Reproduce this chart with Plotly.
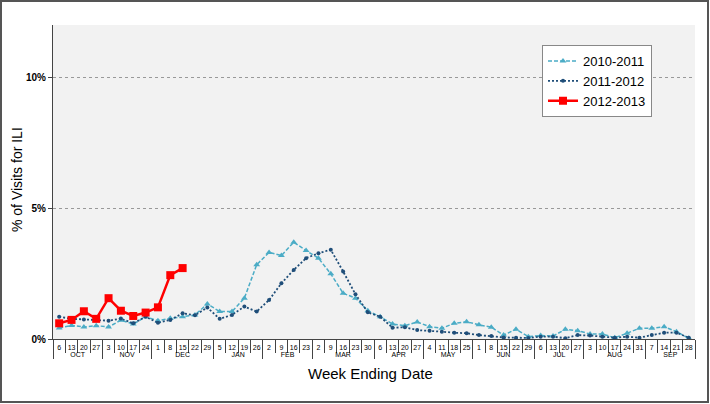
import plotly.graph_objects as go

# week ending dates, Oct through Sep
months = (["OCT"] * 4 + ["NOV"] * 4 + ["DEC"] * 5 + ["JAN"] * 4 + ["FEB"] * 4 + ["MAR"] * 5
          + ["APR"] * 4 + ["MAY"] * 4 + ["JUN"] * 5 + ["JUL"] * 4 + ["AUG"] * 5 + ["SEP"] * 4)
days = ["6", "13", "20", "27", "3", "10", "17", "24", "1", "8", "15", "22", "29",
        "5", "12", "19", "26", "2", "9", "16", "23", "2", "9", "16", "23", "30",
        "6", "13", "20", "27", "4", "11", "18", "25", "1", "8", "15", "22", "29",
        "6", "13", "20", "27", "3", "10", "17", "24", "31", "7", "14", "21", "28"]

ili_2010 = [0.42, 0.52, 0.46, 0.51, 0.46, 0.72, 0.57, 0.85, 0.70, 0.79, 0.85, 0.92, 1.34,
            1.05, 1.05, 1.56, 2.84, 3.31, 3.19, 3.70, 3.38, 3.09, 2.49, 1.75, 1.56, 1.08,
            0.85, 0.57, 0.51, 0.65, 0.47, 0.41, 0.60, 0.66, 0.54, 0.45, 0.15, 0.37, 0.09,
            0.13, 0.11, 0.37, 0.32, 0.19, 0.19, 0.05, 0.22, 0.41, 0.41, 0.47, 0.28, 0.03]
ili_2011 = [0.85, 0.77, 0.75, 0.72, 0.70, 0.78, 0.60, 0.85, 0.62, 0.73, 0.98, 0.91, 1.20,
            0.77, 0.92, 1.24, 1.05, 1.49, 2.13, 2.64, 3.09, 3.28, 3.41, 2.58, 1.71, 1.02,
            0.85, 0.43, 0.45, 0.34, 0.32, 0.28, 0.24, 0.22, 0.15, 0.11, 0.06, 0.05, 0.04,
            0.09, 0.09, 0.03, 0.15, 0.13, 0.09, 0.05, 0.09, 0.05, 0.15, 0.24, 0.24, 0.05]
ili_2012 = [0.60, 0.73, 1.06, 0.77, 1.56, 1.08, 0.88, 1.01, 1.21, 2.44, 2.71]

fig = go.Figure()
fig.add_trace(go.Scatter(x=[months, days], y=ili_2010, name="2010-2011", mode="lines+markers",
                         line=dict(color="#4bacc6", width=1.5, dash="4px,2px"),
                         marker=dict(symbol="triangle-up", size=6, color="#4bacc6")))
fig.add_trace(go.Scatter(x=[months, days], y=ili_2011, name="2011-2012", mode="lines+markers",
                         line=dict(color="#1f4e79", width=1.8, dash="2px,2px"),
                         marker=dict(symbol="circle", size=4, color="#1f4e79")))
fig.add_trace(go.Scatter(x=[months[:len(ili_2012)], days[:len(ili_2012)]], y=ili_2012,
                         name="2012-2013", mode="lines+markers",
                         line=dict(color="#ff0000", width=2.5),
                         marker=dict(symbol="square", size=8, color="#ff0000")))

# frame around the whole picture
W, H, L, R, T, B = 710, 404, 53, 15, 25, 65
pw, ph = W - L - R, H - T - B
fig.add_shape(type="rect", xref="paper", yref="paper",
              x0=(1 - L) / pw, x1=(W - 2 - L) / pw, y0=(H - B - (H - 2)) / ph, y1=(H - B - 1) / ph,
              line=dict(color="#555555", width=2), fillcolor="rgba(0,0,0,0)")

# axis titles
fig.add_annotation(text="Week Ending Date", xref="paper", yref="paper", x=(370 - L) / pw,
                   y=(H - B - 373) / ph, xanchor="center", yanchor="middle",
                   showarrow=False, font=dict(size=15))
fig.add_annotation(text="% of Visits for ILI", xref="paper", yref="paper", x=(17 - L) / pw,
                   y=(H - B - 180) / ph, xanchor="center", yanchor="middle", textangle=-90,
                   showarrow=False, font=dict(size=14))

fig.update_layout(
    width=W, height=H, margin=dict(l=L, r=R, t=T, b=B, autoexpand=False),
    paper_bgcolor="white", plot_bgcolor="#f2f2f2",
    font=dict(family="Arial, Liberation Sans", color="#000000"),
    showlegend=True,
    legend=dict(x=(542 - L) / pw, y=(H - B - 45) / ph, xanchor="left", yanchor="top",
                bgcolor="white", bordercolor="#888888", borderwidth=1, font=dict(size=13),
                tracegroupgap=0, itemwidth=30),
)
fig.update_xaxes(type="multicategory", range=[-0.5, len(days) - 0.5], showgrid=False,
                 showline=True, linecolor="#444444",
                 ticks="outside", ticklen=13, tickcolor="#444444", tickfont=dict(size=7),
                 tickangle=0, automargin=False, ticklabelstandoff=2,
                 showdividers=True, dividercolor="#444444", dividerwidth=1)
fig.update_yaxes(range=[0, 12], tickvals=[0, 5, 10], ticktext=["<b>0%</b>", "<b>5%</b>", "<b>10%</b>"],
                 tickfont=dict(size=10), showgrid=True, gridcolor="#999999", griddash="dot",
                 zeroline=False, showline=True, linecolor="#444444", ticks="outside",
                 ticklen=4, tickcolor="#444444", automargin=False)

# page fills the window exactly: no body margin, no scrollbars
fix_page = ("document.body.style.margin='0';document.body.style.overflow='hidden';"
            "Plotly.relayout(document.getElementById('{plot_id}'), {width: 710, height: 404});")
fig.write_html("out.html", config={"responsive": False, "displayModeBar": False},
               post_script=fix_page)
